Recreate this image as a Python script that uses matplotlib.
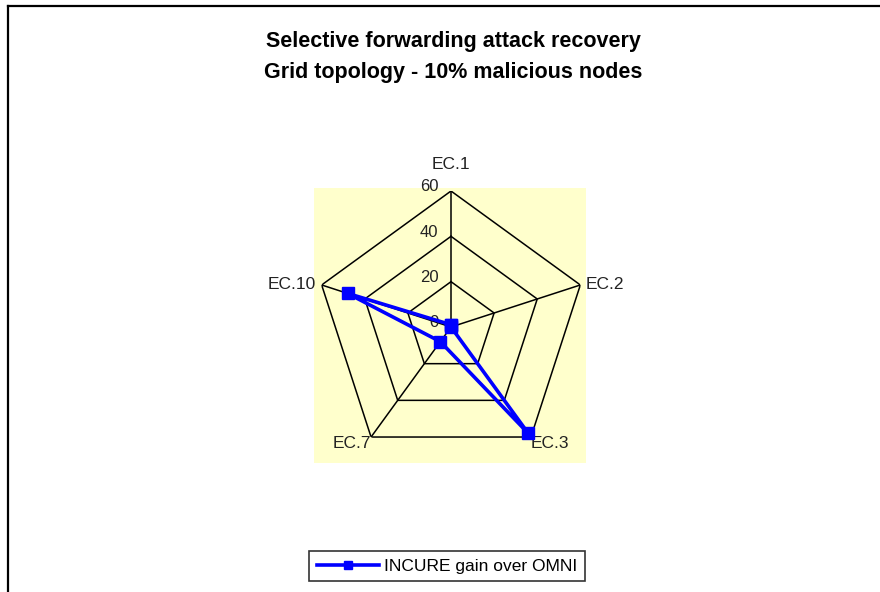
import numpy as np
import matplotlib
matplotlib.use("Agg")
import matplotlib.pyplot as plt
from matplotlib.lines import Line2D
from matplotlib.patches import Rectangle

plt.rcParams['font.family'] = ['Liberation Sans', 'DejaVu Sans']

# data
categories = ['EC.1', 'EC.2', 'EC.3', 'EC.7', 'EC.10']
gain = [1, 0, 58, 8, 48]
series_name = 'INCURE gain over OMNI'
rings = [20, 40, 60]
ring_labels = ['0', '20', '40', '60']

fig = plt.figure(figsize=(8.8, 5.92), dpi=100)

# pale yellow plot area behind the radar
fig.add_artist(Rectangle((314 / 880, 1 - 463 / 592), 272 / 880, 275 / 592,
                         transform=fig.transFigure, facecolor='#FFFFCC',
                         edgecolor='none', zorder=0))

# outer frame (only top and left edges visible)
fig.add_artist(Line2D([8 / 880, 1], [1 - 6 / 592, 1 - 6 / 592],
                      transform=fig.transFigure, color='black', lw=1.6))
fig.add_artist(Line2D([8 / 880, 8 / 880], [0, 1 - 6 / 592],
                      transform=fig.transFigure, color='black', lw=1.6))

fig.text(0.515, 1 - 57 / 592,
         'Selective forwarding attack recovery\nGrid topology - 10% malicious nodes',
         ha='center', va='center', fontsize=15.5, fontweight='bold',
         linespacing=1.6)

cx, cy, rad = 451, 327, 136
ax = fig.add_axes([(cx - rad) / 880, (592 - cy - rad) / 592, 2 * rad / 880, 2 * rad / 592],
                  projection='polar')
ax.set_theta_zero_location('N')
ax.set_theta_direction(-1)
ax.patch.set_visible(False)
ax.spines['polar'].set_visible(False)
ax.grid(False)
ax.set_xticks([])
ax.set_yticks([])
ax.set_ylim(0, 60)

n = len(categories)
angles = np.linspace(0, 2 * np.pi, n, endpoint=False)
closed = np.concatenate([angles, angles[:1]])

for r in rings:
    ax.plot(closed, [r] * (n + 1), color='black', lw=1.1, zorder=2)
for a in angles:
    ax.plot([a, a], [0, 60], color='black', lw=1.1, zorder=2)

for i, lab in enumerate(ring_labels):
    ax.annotate(lab, xy=(0, i * 20), xytext=(-9, 3), textcoords='offset points',
                ha='right', va='center', fontsize=12, color='#222222')

# label placement (offset in points, alignment) per spoke
label_pos = [((0, 19), 'center'), ((4, 0), 'left'), ((0, -5), 'left'),
             ((0, -5), 'right'), ((-4, 0), 'right')]
for a, lab, (off, ha) in zip(angles, categories, label_pos):
    ax.annotate(lab, xy=(a, 60), xytext=off, textcoords='offset points',
                ha=ha, va='center', fontsize=12.5, color='#222222',
                annotation_clip=False)

vals = gain + gain[:1]
ax.plot(closed, vals, color='#0000FF', lw=2.6, marker='s', markersize=8,
        zorder=5, clip_on=False, label=series_name)

leg = fig.legend(loc='center', bbox_to_anchor=(447 / 880, 1 - 566 / 592),
                 fontsize=12.5, frameon=True, fancybox=False, handlelength=3.6,
                 borderpad=0.45, handletextpad=0.3, markerscale=0.8)
leg.get_frame().set_edgecolor('black')
leg.get_frame().set_linewidth(1.2)

fig.savefig('out.png', dpi=100)
